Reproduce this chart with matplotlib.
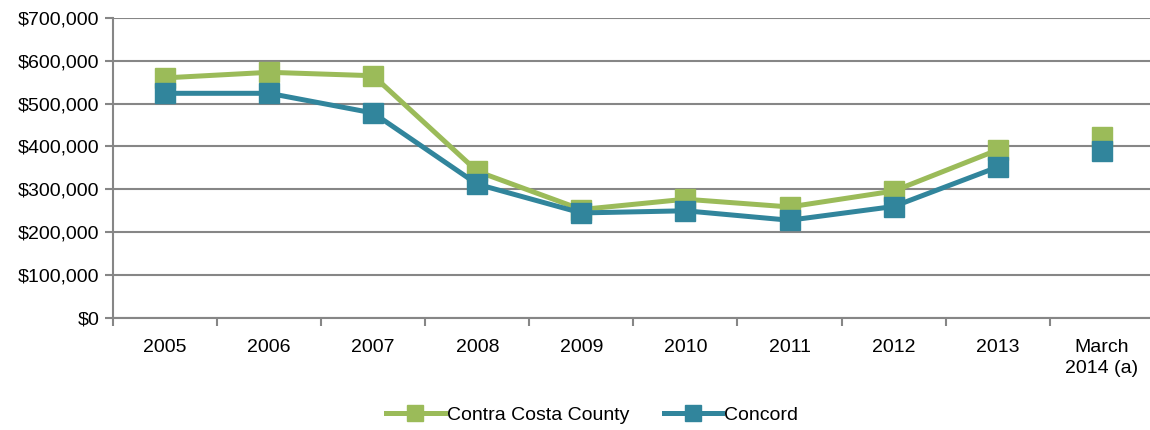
import numpy as np
import matplotlib
matplotlib.use("Agg")
import matplotlib.pyplot as plt
from matplotlib.ticker import FuncFormatter, FixedLocator

plt.rcParams['font.family'] = ['Liberation Sans', 'DejaVu Sans']

years = ['2005', '2006', '2007', '2008', '2009', '2010', '2011', '2012', '2013', 'March\n2014 (a)']
contra_costa = [560000, 573000, 565000, 342000, 253000, 277000, 259000, 296000, 392000, 423000]
concord = [524000, 524000, 478000, 312000, 245000, 250000, 228000, 260000, 352000, 389000]

green = '#9BBB59'
teal = '#31859C'
grid = '#868686'
fs = 14

fig = plt.figure(figsize=(11.5, 4.3), dpi=100)
ax = fig.add_axes([0.0983, 0.2605, 0.905, 0.698])

x = np.arange(len(years))
for vals, col, name, z in [(contra_costa, green, 'Contra Costa County', 3),
                           (concord, teal, 'Concord', 4)]:
    # the last (partial-year) point stands alone, not joined to the line
    ax.plot(x[:-1], vals[:-1], color=col, lw=3.6, marker='s', ms=14,
            mec=col, label=name, zorder=z)
    ax.plot(x[-1:], vals[-1:], color=col, lw=0, marker='s', ms=14,
            mec=col, zorder=z)

ax.set_xlim(-0.5, len(years) - 0.5)
ax.set_ylim(0, 700000)
ax.set_yticks(np.arange(0, 700001, 100000))
ax.yaxis.set_major_formatter(FuncFormatter(lambda v, p: '${:,.0f}'.format(v)))
ax.grid(axis='y', color=grid, lw=1.5)
ax.set_axisbelow(True)

ax.set_xticks(x)
ax.set_xticklabels(years, linespacing=1.3)
ax.xaxis.set_minor_locator(FixedLocator(np.arange(-0.5, len(years), 1)))
ax.tick_params(axis='x', which='major', length=0, pad=15, labelsize=fs)
ax.tick_params(axis='x', which='minor', length=6, width=1.5, color=grid)
ax.tick_params(axis='y', length=6, width=1.5, color=grid, labelsize=fs, pad=4)

for s in ['top', 'right']:
    ax.spines[s].set_visible(False)
for s in ['left', 'bottom']:
    ax.spines[s].set_color(grid)
    ax.spines[s].set_linewidth(1.5)

fig.legend(loc='center', bbox_to_anchor=(0.515, 0.035), ncol=2, frameon=False,
           fontsize=fs, handlelength=3.0, columnspacing=1.8, handletextpad=0.1,
           markerscale=0.85)

fig.savefig('out.png', dpi=100)
